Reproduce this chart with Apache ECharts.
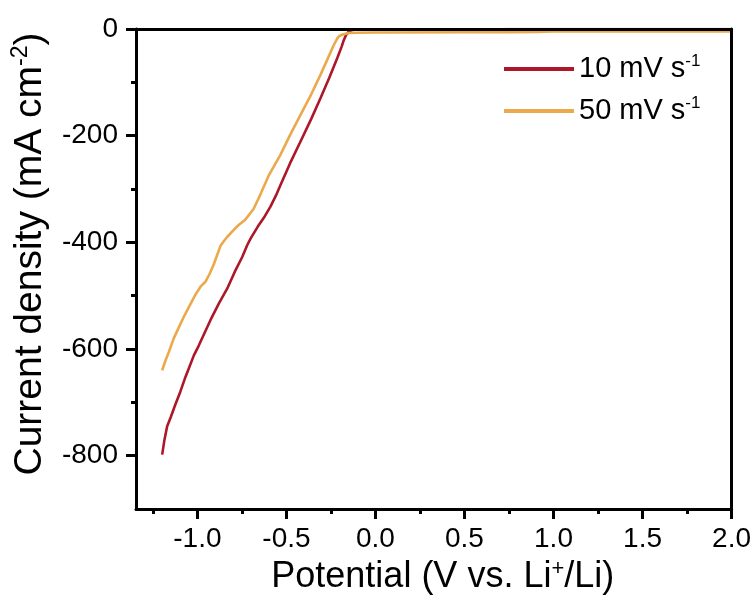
<!DOCTYPE html>
<html>
<head>
<meta charset="utf-8">
<script src="https://cdn.jsdelivr.net/npm/echarts@6/dist/echarts.min.js"></script>
<style>html,body{margin:0;padding:0;background:#fff}#c{width:754px;height:603px}</style>
</head>
<body>
<div id="c"></div>
<script>
// ---- data ----
const seriesNames = ['10 mV s-1', '50 mV s-1'];
const xTicks = [-1.0, -0.5, 0.0, 0.5, 1.0, 1.5, 2.0];
const xMinorTicks = [-1.25, -0.75, -0.25, 0.25, 0.75, 1.25, 1.75];
const yTicks = [-800, -600, -400, -200, 0];
const yMinorTicks = [-700, -500, -300, -100];

const potential10 = [-1.198,-1.185,-1.17,-1.15,-1.125,-1.096,-1.07,-1.049,-1.02,-0.993,-0.96,-0.927,-0.88,-0.833,-0.79,-0.749,-0.72,-0.70,-0.66,-0.627,-0.59,-0.56,-0.534,-0.48,-0.421,-0.36,-0.309,-0.26,-0.215,-0.19,-0.178,-0.165,-0.15,-0.131,-0.10,0.0,0.3,0.7,0.75,1.0,1.5,2.0];
const current10 = [-798,-770,-745,-728,-705,-680,-655,-637,-612,-594,-570,-546,-515,-487,-455,-428,-405,-392,-370,-354,-333,-313,-293,-252,-211,-168,-130,-92,-55,-33,-21,-11,-5,-2,-1,-0.6,-0.5,-0.5,0,0,0,0];

const potential50 = [-1.198,-1.18,-1.161,-1.133,-1.105,-1.077,-1.049,-1.011,-0.98,-0.955,-0.93,-0.908,-0.885,-0.871,-0.85,-0.833,-0.80,-0.77,-0.73,-0.70,-0.684,-0.646,-0.60,-0.534,-0.48,-0.421,-0.36,-0.309,-0.27,-0.234,-0.215,-0.206,-0.19,-0.178,-0.15,-0.10,0.0,0.5,0.75,0.9,1.0,1.2,1.5,2.0];
const current50 = [-640,-622,-606,-580,-560,-540,-522,-498,-482,-474,-458,-441,-420,-407,-397,-390,-378,-368,-357,-344,-337,-310,-275,-236,-199,-161,-122,-86,-57,-30,-18,-14,-11,-10,-7.5,-7,-6.5,-6,-5.8,-5.3,-4.8,-4.6,-4.5,-4.4];

// ---- chart ----
const FONT = '"Liberation Sans", Arial, sans-serif';
const RED = '#AD1729';
const ORANGE = '#ECA94B';
const xRich = {
  a: {fontSize: 36, fontFamily: FONT, color: '#000', lineHeight: 39},
  sup: {fontSize: 22, fontFamily: FONT, color: '#000', lineHeight: 23, verticalAlign: 'top'}
};
const yRich = {
  a: {fontSize: 39, fontFamily: FONT, color: '#000', lineHeight: 42},
  sup: {fontSize: 23, fontFamily: FONT, color: '#000', lineHeight: 24, verticalAlign: 'top'}
};
const legRich = {
  a: {fontSize: 29, fontFamily: FONT, color: '#000', lineHeight: 32},
  sup: {fontSize: 17, fontFamily: FONT, color: '#000', lineHeight: 17, verticalAlign: 'top'}
};
function legFmt(name) {
  const m = name.match(/^(.*s)(-1)$/);
  return '{a|' + m[1] + '}{sup|' + m[2] + '}';
}
const axisLine = {show: true, onZero: false, lineStyle: {color: '#000', width: 3}};
const noLine = {show: false, onZero: false};
const xMin = -1.345, xMax = 2.0, yMin = -900, yMax = 0;

const chart = echarts.init(document.getElementById('c'), null, {renderer: 'canvas'});
chart.setOption({
  animation: false,
  backgroundColor: '#fff',
  grid: {left: 136, top: 29, width: 596, height: 480, containLabel: false},
  legend: [
    {data: [seriesNames[0]], left: 499, top: 48, orient: 'vertical', icon: 'rect', itemWidth: 70, itemHeight: 4, itemGap: 11,
     formatter: legFmt, textStyle: {rich: legRich}},
    {data: [seriesNames[1]], left: 499, top: 90, orient: 'vertical', icon: 'rect', itemWidth: 70, itemHeight: 4, itemGap: 11,
     formatter: legFmt, textStyle: {rich: legRich}}
  ],
  xAxis: [
    {type: 'value', position: 'bottom', min: xMin, max: xMax, axisLine: axisLine,
     splitLine: {show: false},
     axisTick: {show: true, customValues: xTicks, length: 10, inside: false, lineStyle: {color: '#000', width: 3}},
     axisLabel: {customValues: xTicks, formatter: v => v.toFixed(1), fontSize: 28, fontFamily: FONT, color: '#000', margin: 16},
     name: '{a|Potential (V vs. Li}{sup|+}{a|/Li)}', nameLocation: 'middle', nameGap: 49,
     nameTextStyle: {rich: xRich, padding: [0, 0, 0, 18]}, z: 10},
    {type: 'value', position: 'bottom', min: xMin, max: xMax, axisLine: noLine, splitLine: {show: false},
     axisTick: {show: true, customValues: xMinorTicks, length: 5, lineStyle: {color: '#000', width: 3}},
     axisLabel: {show: false}, z: 10},
    {type: 'value', position: 'top', min: xMin, max: xMax, axisLine: axisLine, splitLine: {show: false},
     axisTick: {show: false}, axisLabel: {show: false}, z: 10}
  ],
  yAxis: [
    {type: 'value', position: 'left', min: yMin, max: yMax, axisLine: axisLine, splitLine: {show: false},
     axisTick: {show: true, customValues: yTicks, length: 10, lineStyle: {color: '#000', width: 3}},
     axisLabel: {customValues: yTicks, fontSize: 28, fontFamily: FONT, color: '#000', margin: 18},
     name: '{a|Current density (mA cm}{sup|-2}{a|)}', nameLocation: 'middle', nameGap: 85,
     nameTextStyle: {rich: yRich, padding: [0, 0, 0, 30]}, z: 10},
    {type: 'value', position: 'left', min: yMin, max: yMax, axisLine: noLine, splitLine: {show: false},
     axisTick: {show: true, customValues: yMinorTicks, length: 5, lineStyle: {color: '#000', width: 3}},
     axisLabel: {show: false}, z: 10},
    {type: 'value', position: 'right', min: yMin, max: yMax, axisLine: axisLine, splitLine: {show: false},
     axisTick: {show: false}, axisLabel: {show: false}, z: 10}
  ],
  series: [
    {name: seriesNames[0], type: 'line', xAxisIndex: 0, yAxisIndex: 0, showSymbol: false, symbol: 'none',
     color: RED, lineStyle: {color: RED, width: 2.6}, z: 3,
     data: potential10.map((x, i) => [x, current10[i]])},
    {name: seriesNames[1], type: 'line', xAxisIndex: 0, yAxisIndex: 0, showSymbol: false, symbol: 'none',
     color: ORANGE, lineStyle: {color: ORANGE, width: 2.6}, z: 3,
     data: potential50.map((x, i) => [x, current50[i]])}
  ]
});
</script>
</body>
</html>
